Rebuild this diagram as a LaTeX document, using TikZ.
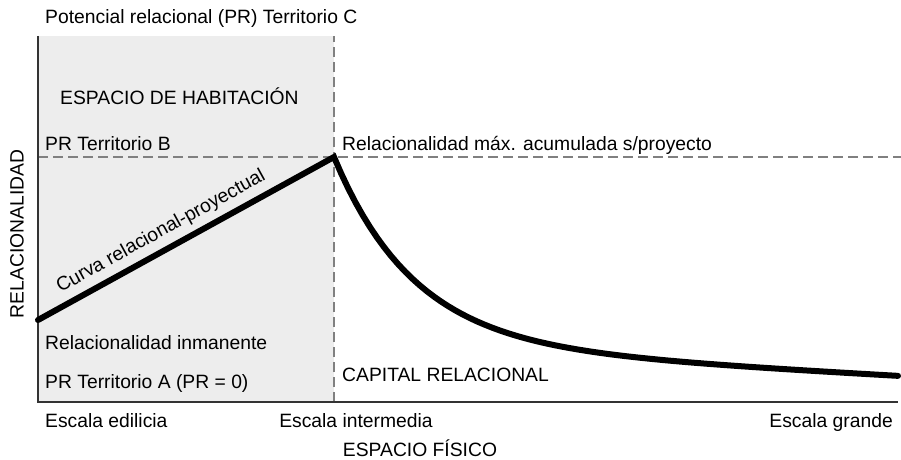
\documentclass[tikz,border=0pt]{standalone}
\usepackage{fontspec}
\setmainfont{Liberation Sans}
\begin{document}
\begin{tikzpicture}[x=1pt, y=1pt, font=\fontsize{19.3}{23}\selectfont,
    txt/.style = {inner sep=0pt, anchor=base west},
    axis/.style = {draw=black!80, line width=1.3pt},
    guide/.style = {draw=black!50, line width=1.3pt, dash pattern=on 10pt off 5pt},
    curve/.style = {line width=6pt, line join=miter, line cap=round}]
    \useasboundingbox (0,0) rectangle (901,459);

    \coordinate (o) at (38,57);
    \coordinate (top) at (38,423);
    \coordinate (xend) at (898,57);
    \coordinate (mid) at (334,57);
    \coordinate (midtop) at (334,423);
    \coordinate (b) at (38,302);
    \coordinate (bend) at (901,302);
    \coordinate (start) at (38,139);
    \coordinate (peak) at (334,302);

    \fill[black!7] (o) rectangle (midtop);
    \draw[guide] (mid) -- (midtop);
    \draw[guide] (b) -- (bend);
    \draw[axis] (top) -- (o) -- (xend);

    \draw[curve] (start) -- node[sloped, above=6pt, pos=0.445, inner sep=0pt] (lcurva) {Curva relacional-proyectual} (peak)
        -- plot[domain=334:898, samples=80] (\x, {302 - 188*(1-exp(-(\x-334)/80)) - 0.055*(\x-334)});

    \node[txt] (prc) at (45,435) {Potencial relacional (PR) Territorio C};
    \node[txt] (hab) at (60,355) {ESPACIO DE HABITACIÓN};
    \node[txt] (prb) at (45,309) {PR Territorio B};
    \node[txt] (max) at (342,309) {Relacionalidad máx. acumulada s/proyecto};
    \node[txt] (inm) at (45,110) {Relacionalidad inmanente};
    \node[txt] (pra) at (45,71) {PR Territorio A (PR = 0)};
    \node[txt] (cap) at (342,78) {CAPITAL RELACIONAL};
    \node[txt] (edi) at (45,32) {Escala edilicia};
    \node[txt, anchor=base] (int) at (356,32) {Escala intermedia};
    \node[txt, anchor=base east] (gra) at (893,32) {Escala grande};
    \node[txt, anchor=base] (fis) at (420,3) {ESPACIO FÍSICO};
    \node[inner sep=0pt, rotate=90] (rel) at (17,225) {RELACIONALIDAD};

\end{tikzpicture}
\end{document}
